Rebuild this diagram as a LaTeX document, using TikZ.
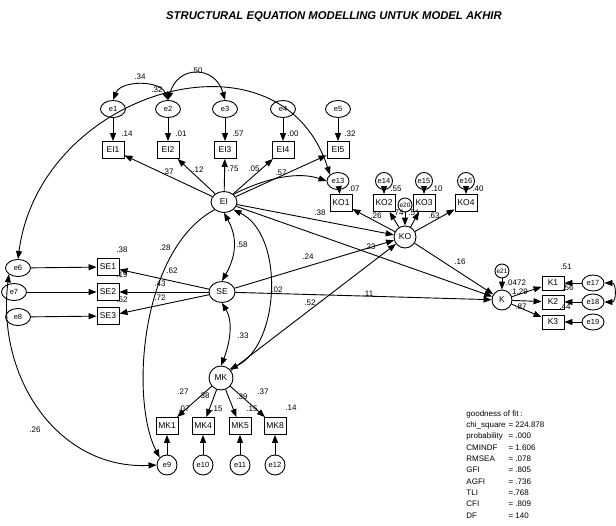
\documentclass[tikz,border=0pt]{standalone}
\usepackage{fontspec}
\setmainfont{Liberation Sans}
\usetikzlibrary{arrows.meta,shapes.geometric}

\begin{document}
\begin{tikzpicture}[x=1pt,y=-1pt,line width=.9pt,
  font=\fontsize{8}{9}\selectfont,
  errv/.style={draw,ellipse,inner sep=0pt,minimum width=25pt,minimum height=17pt,font=\fontsize{7.5}{8}\selectfont},
  errs/.style={draw,circle,inner sep=0pt,minimum size=17pt,font=\fontsize{7.5}{8}\selectfont},
  latv/.style={draw,ellipse,inner sep=0pt,minimum width=26pt,minimum height=21pt,font=\fontsize{8.5}{9}\selectfont},
  obsv/.style={draw,rectangle,inner sep=1pt,minimum width=22pt,minimum height=17pt,font=\fontsize{8.5}{9}\selectfont},
  coef/.style={inner sep=0pt},
  arr/.style={-{Triangle[length=8pt,width=6pt]}},
  cov/.style={{Triangle[length=8pt,width=6pt]}-{Triangle[length=8pt,width=6pt]}}]

  \useasboundingbox (0,0) rectangle (616,525);

  \node[font=\fontsize{11.3}{12}\selectfont\bfseries\itshape] (title) at (334,17)
    {STRUCTURAL EQUATION MODELLING UNTUK MODEL AKHIR};

  % latent variables
  \node[latv] (EI) at (224,202) {EI};
  \node[latv,circle,minimum size=22pt] (KO) at (405,237) {KO};
  \node[latv] (SE) at (222,292) {SE};
  \node[latv,circle,minimum size=20pt] (K) at (502,300) {K};
  \node[latv,circle,minimum size=24pt] (MK) at (221,378) {MK};

  % EI indicators
  \foreach \i/\x in {1/113,2/168,3/225,4/283,5/338} {
    \node[errv] (e\i) at (\x,109) {e\i};
    \node[obsv] (EI\i) at (\x,150) {EI\i};
  }

  % KO indicators
  \node[errv,minimum width=22pt] (e13) at (338,181) {e13};
  \foreach \e/\x in {14/384,15/424,16/466}
    \node[errs] (e\e) at (\x,181) {e\e};
  \foreach \i/\x in {1/341,2/384,3/424,4/466}
    \node[obsv] (KO\i) at (\x,203) {KO\i};
  \node[errs,minimum size=14pt,font=\fontsize{6.5}{7}\selectfont] (e20) at (405,205) {e20};

  % SE indicators
  \node[errv] (e6) at (18,268) {e6};
  \node[errv] (e7) at (14,292) {e7};
  \node[errv] (e8) at (18,317) {e8};
  \foreach \i/\y in {1/267,2/292,3/316}
    \node[obsv] (SE\i) at (108,\y) {SE\i};

  % K indicators
  \node[errs,minimum size=14pt,font=\fontsize{6.5}{7}\selectfont] (e21) at (502,271) {e21};
  \foreach \i/\e/\y in {1/17/283,2/18/302,3/19/322} {
    \node[obsv,minimum height=14pt] (K\i) at (553,\y) {K\i};
    \node[errv,minimum width=22pt,minimum height=16pt] (e\e) at (593,\y) {e\e};
  }

  % MK indicators
  \foreach \i/\e/\x in {1/9/167,4/10/203,5/11/240,8/12/275} {
    \node[obsv] (MK\i) at (\x,426) {MK\i};
    \node[errs,minimum size=20pt] (e\e) at (\x,465) {e\e};
  }

  % measurement paths
  \foreach \i in {1,...,5} {
    \draw[arr] (e\i) -- (EI\i);
    \draw[arr] (EI) -- (EI\i);
  }
  \foreach \e/\i in {13/1,14/2,15/3,16/4} {
    \draw[arr] (e\e) -- (KO\i);
    \draw[arr] (KO) -- (KO\i);
  }
  \foreach \e/\i in {6/1,7/2,8/3} {
    \draw[arr] (e\e) -- (SE\i);
    \draw[arr] (SE) -- (SE\i);
  }
  \foreach \e/\i in {17/1,18/2,19/3} {
    \draw[arr] (e\e) -- (K\i);
    \draw[arr] (K) -- (K\i);
  }
  \foreach \e/\i in {9/1,10/4,11/5,12/8} {
    \draw[arr] (e\e) -- (MK\i);
    \draw[arr] (MK) -- (MK\i);
  }
  \draw[arr] (e20) -- (KO);
  \draw[arr] (e21) -- (K);

  % structural paths
  \draw[arr] (EI) -- (KO);
  \draw[arr] (SE) -- (KO);
  \draw[arr] (MK) -- (KO);
  \draw[arr] (KO) -- (K);
  \draw[arr] (EI) -- (K);
  \draw[arr] (SE) -- (K);

  % covariances
  \draw[cov] (e1.north) .. controls +(8,-20) and +(-8,-20) .. (e2.north);
  \draw[cov] (e2.north) .. controls +(10,-35) and +(-10,-35) .. (e3.north);
  \draw[cov] (e6.north) .. controls (40,90) and (280,20) .. (e13.north west);
  \draw[arr] (EI.north east) .. controls (270,176) and (300,172) .. (e13.west);
  \draw[cov] (EI.south) .. controls +(14,25) and +(14,-25) .. (SE.north);
  \draw[cov] (SE.south) .. controls +(12,20) and +(8,-20) .. (MK.north);
  \draw[cov] (EI.south east) .. controls (285,235) and (280,345) .. (MK.north east);
  \draw[arr] (EI.south west) .. controls (140,250) and (130,400) .. (e9.north west);
  \draw[cov] (e9.west) .. controls (60,470) and (-4,380) .. (e6.south west);
  \draw[cov] (e17.east) .. controls +(12,0) and +(12,0) .. (e18.east);

  % estimates
  \foreach \t/\x/\y [count=\n] in {
      .14/127/134, .01/181/134, .57/238/134, .00/293/134, .32/350/134,
      .37/168/172, .12/198/170, .75/233/169, .05/254/169, .57/281/173,
      .07/354/189, .55/396/189, .10/437/189, .40/478/189,
      .26/376/216, .74/398/213, .51/414/213, .63/434/216,
      .38/122/250, .19/122/275, .52/122/300,
      .62/172/271, .43/160/284, .72/160/298,
      .51/566/267, .56/568/288, .44/565/307,
      .0472/516/283, 1.29/520/292, .87/521/307,
      .27/183/392, .38/204/396, .39/242/397, .37/263/392,
      .07/184/409, .15/217/409, .15/252/409, .14/291/408,
      .38/320/213, .24/308/257, .23/370/247, .16/460/262,
      .11/368/294, .52/310/303,
      .34/140/77, .50/197/71, .32/157/90, .58/242/245,
      .33/243/336, .02/277/290, .28/165/248, .26/35/430}
    \node[coef] (est\n) at (\x,\y) {\t};

  % fit summary
  \node[anchor=north west,inner sep=0pt,font=\fontsize{8}{11.3}\selectfont] (gof) at (466,408)
    {\begin{tabular}{@{}l@{\hspace{3pt}}l@{}}
      \multicolumn{2}{@{}l@{}}{goodness of fit :} \\
      chi\_square & = 224.878 \\
      probability & = .000 \\
      CMINDF & = 1.606 \\
      RMSEA & = .078 \\
      GFI & = .805 \\
      AGFI & = .736 \\
      TLI & =.768 \\
      CFI & = .809 \\
      DF & = 140
    \end{tabular}};
\end{tikzpicture}
\end{document}
